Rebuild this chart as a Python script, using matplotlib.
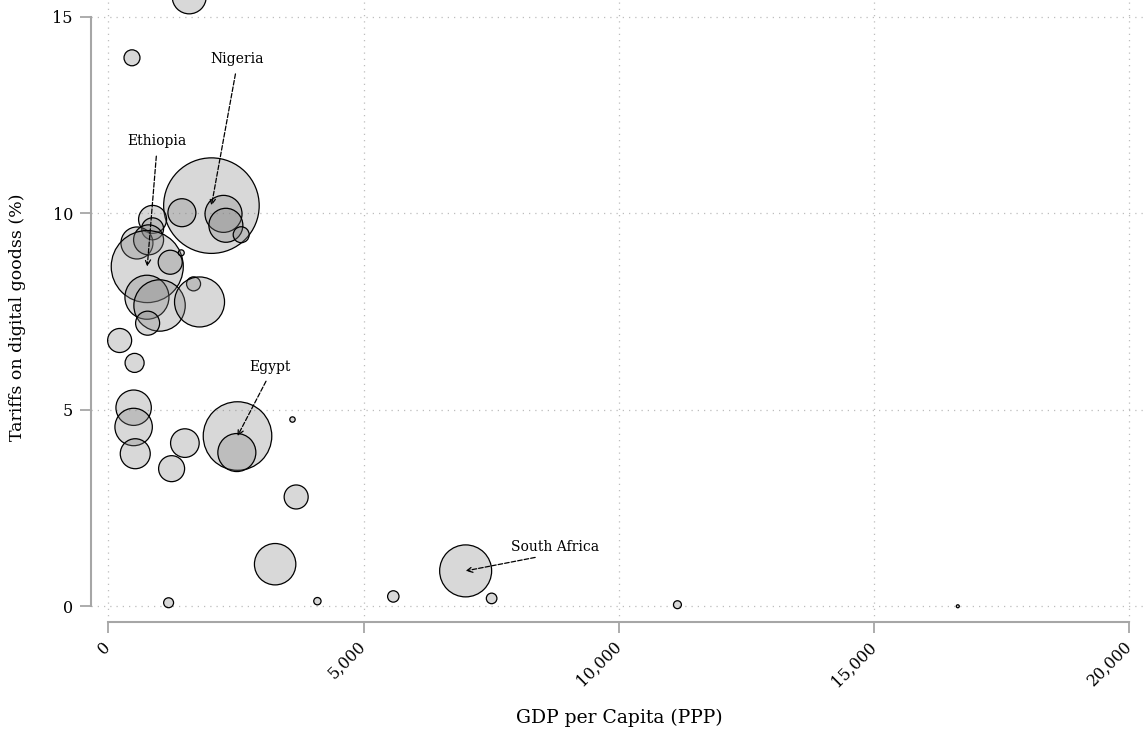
import matplotlib.pyplot as plt
from matplotlib.ticker import FuncFormatter

# GDP per capita (PPP), tariff on digital goods (%), population (millions) per country
gdp = [1585, 464, 2020, 1442, 2257, 2303, 2603, 867, 867, 561, 789, 763, 1213,
       1429, 1670, 757, 1004, 1787, 770, 222, 515, 496, 496, 528, 1500, 1240,
       2531, 2518, 3608, 3680, 3268, 1181, 4096, 5583, 7000, 7509, 11149, 16641]
tariff = [15.5, 13.95, 10.19, 10.01, 9.98, 9.69, 9.45, 9.84, 9.60, 9.24, 9.32,
          8.64, 8.75, 8.99, 8.20, 7.86, 7.65, 7.74, 7.20, 6.76, 6.19, 5.05, 4.56,
          3.88, 4.15, 3.50, 4.33, 3.91, 4.75, 2.78, 1.07, 0.09, 0.13, 0.25, 0.90,
          0.20, 0.04, 0.00]
population = [25.8, 5.7, 204, 17.5, 30.6, 25.8, 5.7, 17.5, 10.8, 22.9, 20.1,
              116, 12.9, 0.8, 4.4, 43.3, 59, 55.9, 12.9, 12.9, 8.1, 28, 31.3,
              20.1, 18.3, 15.1, 105, 32.3, 0.65, 12.9, 38.3, 2.2, 1.2, 2.9, 60.4,
              2.5, 1.4, 0.2]

# labelled countries: name, bubble (gdp, tariff), label position (gdp, tariff)
labels = ['Nigeria', 'Ethiopia', 'Egypt', 'South Africa']
label_points = [(2020, 10.19), (763, 8.64), (2531, 4.33), (7000, 0.90)]
label_text_pos = [(2520, 13.75), (954, 11.66), (3168, 5.92), (8750, 1.34)]

plt.rcParams['font.family'] = 'DejaVu Serif'

fig = plt.figure(figsize=(11.43, 7.33), dpi=100)
ax = fig.add_axes([91 / 1143, 111 / 733, 1052 / 1143, 622 / 733])

sizes = [p * 23.2 for p in population]
ax.scatter(gdp, tariff, s=sizes, facecolor=(0.5, 0.5, 0.5, 0.3),
           edgecolor='black', linewidth=0.9, zorder=3, clip_on=True)

for name, pt, tp in zip(labels, label_points, label_text_pos):
    ax.annotate(name, xy=pt, xytext=tp, ha='center', va='bottom', fontsize=10,
                zorder=4,
                arrowprops=dict(arrowstyle='->', linestyle='--', color='black',
                                linewidth=0.9, relpos=(0.5, 0), shrinkA=4,
                                shrinkB=0, mutation_scale=10))

ax.set_xlim(-339, 20269)
ax.set_ylim(-0.40, 15.42)

ax.set_xticks([0, 5000, 10000, 15000, 20000])
ax.xaxis.set_major_formatter(FuncFormatter(lambda v, p: f'{int(v):,}'))
ax.set_yticks([0, 5, 10, 15])

for lab in ax.get_xticklabels():
    lab.set_rotation(45)
    lab.set_ha('right')
    lab.set_va('center')
    lab.set_rotation_mode('anchor')

ax.tick_params(axis='both', direction='out', length=8, width=1.3,
               color='#a6a6a6', labelsize=11.5, pad=5)
ax.tick_params(axis='x', pad=8)

for side in ['top', 'right']:
    ax.spines[side].set_visible(False)
for side in ['left', 'bottom']:
    ax.spines[side].set_color('#a6a6a6')
    ax.spines[side].set_linewidth(1.5)
ax.spines['left'].set_bounds(0, 15)
ax.spines['bottom'].set_bounds(0, 20000)

ax.grid(True, linestyle=(0, (1, 4)), color='#bdbdbd', linewidth=0.9, zorder=0)
ax.set_axisbelow(True)

ax.set_xlabel('GDP per Capita (PPP)', fontsize=13.5)
ax.xaxis.set_label_coords(0.502, -0.14)
ax.set_ylabel('Tariffs on digital goodss (%)', fontsize=12.5)
ax.yaxis.set_label_coords(-0.062, 0.49)

fig.savefig('out.png', dpi=100)
